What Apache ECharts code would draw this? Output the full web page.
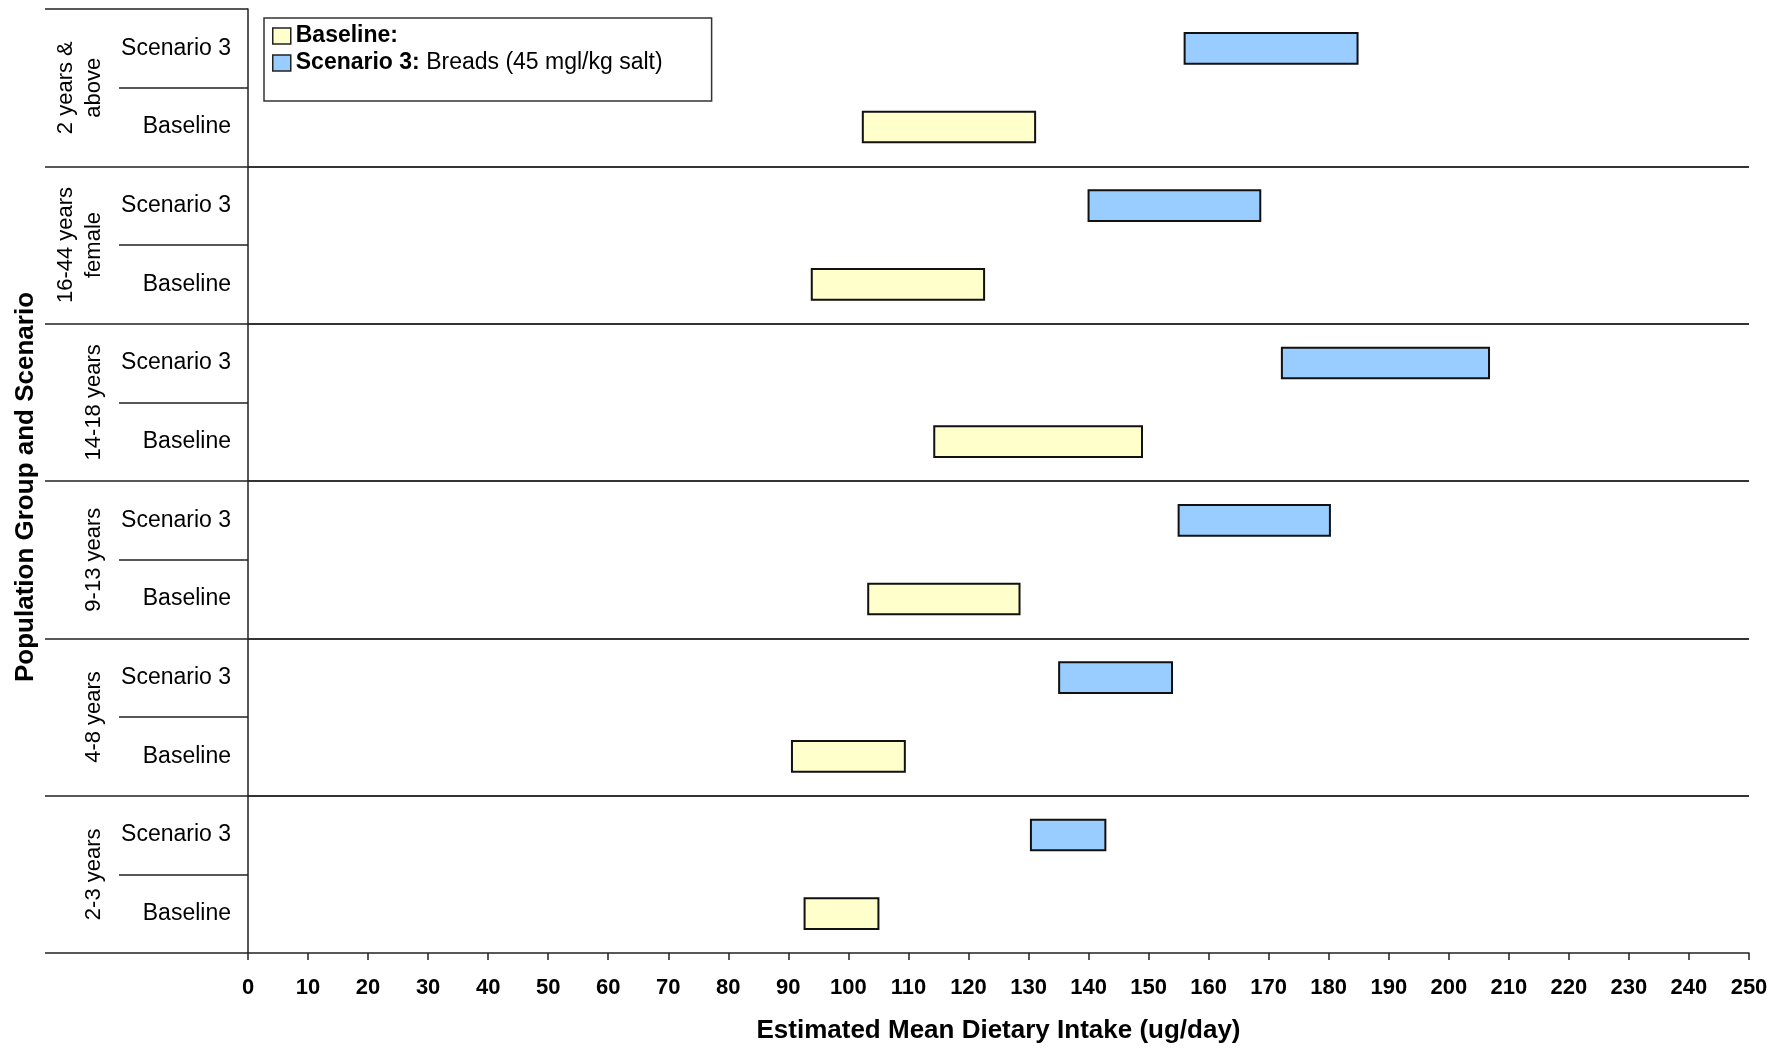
<!DOCTYPE html>
<html>
<head>
<meta charset="utf-8">
<title>Estimated Mean Dietary Intake</title>
<script src="https://cdn.jsdelivr.net/npm/echarts@6/dist/echarts.min.js"></script>
<style>
  html, body { margin: 0; padding: 0; background: #ffffff; }
  #chart { width: 1783px; height: 1049px; }
</style>
</head>
<body>
<div id="chart"></div>
<script>
// Population groups, listed top to bottom
const groups = ['2 years &\nabove', '16-44 years\nfemale', '14-18 years', '9-13 years', '4-8 years', '2-3 years'];
// Scenario rows inside each group, top to bottom
const scenarios = ['Scenario 3', 'Baseline'];

// Intake ranges (ug/day): lower and upper ends of each bar, per group
const scenarioLow  = [156.0, 140.0, 172.2, 155.0, 135.1, 130.4];
const scenarioHigh = [184.8, 168.6, 206.7, 180.2, 153.9, 142.8];
const baselineLow  = [102.4,  93.9, 114.3, 103.3,  90.6,  92.7];
const baselineHigh = [131.1, 122.6, 148.9, 128.5, 109.4, 105.0];

// X axis scale
const xMin = 0, xMax = 250, xStep = 10;

const FONT = '"Liberation Sans", Arial, Helvetica, sans-serif';
const INK = '#222';

// One category row per (group, scenario) pair
const rowLabels = [];
groups.forEach(() => scenarios.forEach(s => rowLabels.push(s)));

const scenarioData = groups.map((g, i) => [i * 2, scenarioLow[i], scenarioHigh[i]]);
const baselineData = groups.map((g, i) => [i * 2 + 1, baselineLow[i], baselineHigh[i]]);

function rangeBar(fill) {
  return function (params, api) {
    const row = api.value(0);
    const a = api.coord([api.value(1), row]);
    const b = api.coord([api.value(2), row]);
    const h = api.size([0, 1])[1] * 0.39;
    return {
      type: 'rect',
      shape: { x: a[0], y: a[1] - h / 2, width: b[0] - a[0], height: h },
      style: { fill: fill, stroke: '#111', lineWidth: 2 }
    };
  };
}

const chart = echarts.init(document.getElementById('chart'), null, { renderer: 'canvas' });

chart.setOption({
  backgroundColor: '#ffffff',
  animation: false,
  textStyle: { fontFamily: FONT, color: '#000' },
  grid: { left: 248, right: 34, top: 9, bottom: 93, containLabel: false },
  legend: {
    orient: 'vertical',
    left: 264,
    top: 18,
    padding: [6, 49, 26, 8],
    itemGap: 3,
    itemWidth: 18,
    itemHeight: 16,
    itemTextGap: 12,
    borderColor: '#333',
    borderWidth: 1.5,
    selectedMode: false,
    data: [
      { name: 'Baseline', icon: 'rect', itemStyle: { color: '#FFFFCC', borderColor: '#222', borderWidth: 1.5 } },
      { name: 'Scenario 3', icon: 'rect', itemStyle: { color: '#99CCFF', borderColor: '#222', borderWidth: 1.5 } }
    ],
    formatter: function (name) {
      return name === 'Baseline'
        ? '{b|Baseline:}'
        : '{b|Scenario 3:} Breads (45 mgl/kg salt)';
    },
    textStyle: {
      fontFamily: FONT, fontSize: 23, color: '#000', lineHeight: 24,
      rich: { b: { fontFamily: FONT, fontSize: 23, fontWeight: 'bold', color: '#000', lineHeight: 24 } }
    }
  },
  xAxis: {
    type: 'value',
    min: xMin,
    max: xMax,
    interval: xStep,
    name: 'Estimated Mean Dietary Intake (ug/day)',
    nameLocation: 'middle',
    nameGap: 65,
    nameTextStyle: { fontFamily: FONT, fontSize: 26, fontWeight: 'bold', color: '#000' },
    axisLine: { show: true, lineStyle: { color: INK, width: 1.5 } },
    axisTick: { show: true, length: 7, lineStyle: { color: INK, width: 1.5 } },
    axisLabel: { fontFamily: FONT, fontSize: 22, fontWeight: 'bold', color: '#000', margin: 24 },
    splitLine: { show: false }
  },
  yAxis: [
    {
      // scenario rows
      type: 'category',
      inverse: true,
      data: rowLabels,
      position: 'left',
      name: 'Population Group and Scenario',
      nameLocation: 'middle',
      nameRotate: 90,
      nameGap: 209,
      nameTextStyle: {
        fontFamily: FONT, fontSize: 26, fontWeight: 'bold', color: '#000',
        padding: [0, 12, 0, 0]
      },
      axisLine: { show: true, lineStyle: { color: INK, width: 1.5 } },
      axisTick: { show: true, interval: 0, length: 129, lineStyle: { color: INK, width: 1.5 } },
      axisLabel: { interval: 0, fontFamily: FONT, fontSize: 23, color: '#000', margin: 17 },
      splitLine: { show: false }
    },
    {
      // population groups
      type: 'category',
      inverse: true,
      data: groups,
      position: 'left',
      offset: 0,
      axisLine: { show: false },
      axisTick: { show: true, interval: 0, length: 203, lineStyle: { color: INK, width: 1.5 } },
      axisLabel: {
        interval: 0, rotate: 90, margin: 140,
        fontFamily: FONT, fontSize: 22, lineHeight: 28, color: '#000', align: 'center'
      },
      splitLine: {
        show: true, interval: 0, showMinLine: false, showMaxLine: false,
        lineStyle: { color: '#333', width: 2 }
      }
    }
  ],
  series: [
    {
      name: 'Baseline',
      type: 'custom',
      yAxisIndex: 0,
      renderItem: rangeBar('#FFFFCC'),
      encode: { x: [1, 2], y: 0 },
      itemStyle: { color: '#FFFFCC', borderColor: '#222' },
      data: baselineData
    },
    {
      name: 'Scenario 3',
      type: 'custom',
      yAxisIndex: 0,
      renderItem: rangeBar('#99CCFF'),
      encode: { x: [1, 2], y: 0 },
      itemStyle: { color: '#99CCFF', borderColor: '#222' },
      data: scenarioData
    }
  ]
});
</script>
</body>
</html>
